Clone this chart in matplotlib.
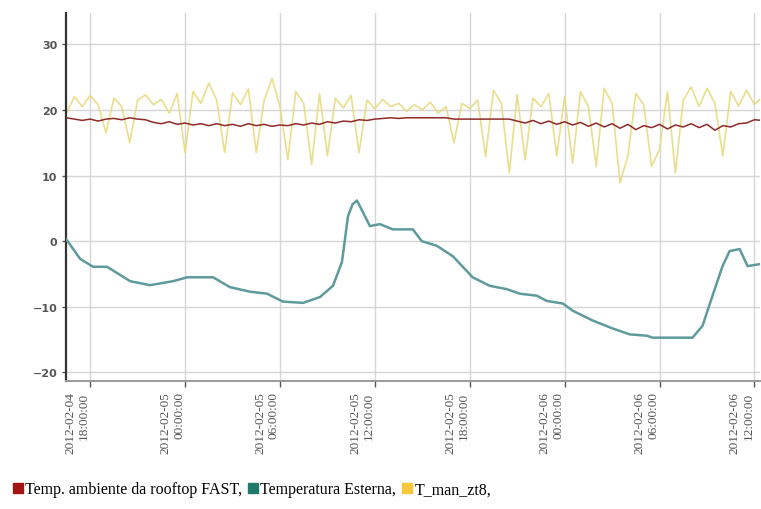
import matplotlib
matplotlib.use('Agg')
import matplotlib.pyplot as plt
import matplotlib.dates as mdates
from matplotlib.lines import Line2D
import pandas as pd

# Temperatura Esterna
est_times = [
    "2012-02-04 16:29", "2012-02-04 17:22", "2012-02-04 18:11", "2012-02-04 19:04",
    "2012-02-04 20:32", "2012-02-04 21:47", "2012-02-04 23:14", "2012-02-05 00:08",
    "2012-02-05 01:46", "2012-02-05 02:50", "2012-02-05 04:07", "2012-02-05 05:11",
    "2012-02-05 06:11", "2012-02-05 07:28", "2012-02-05 08:32", "2012-02-05 09:21",
    "2012-02-05 09:55", "2012-02-05 10:18", "2012-02-05 10:35", "2012-02-05 10:52",
    "2012-02-05 11:15", "2012-02-05 11:41", "2012-02-05 12:19", "2012-02-05 13:08",
    "2012-02-05 14:24", "2012-02-05 14:58", "2012-02-05 15:55", "2012-02-05 16:56",
    "2012-02-05 18:11", "2012-02-05 19:16", "2012-02-05 20:20", "2012-02-05 21:10",
    "2012-02-05 22:14", "2012-02-05 22:52", "2012-02-05 23:53", "2012-02-06 00:31",
    "2012-02-06 01:47", "2012-02-06 03:02", "2012-02-06 04:07", "2012-02-06 05:11",
    "2012-02-06 05:34", "2012-02-06 08:05", "2012-02-06 08:43", "2012-02-06 09:21",
    "2012-02-06 09:59", "2012-02-06 10:26", "2012-02-06 11:04", "2012-02-06 11:34",
    "2012-02-06 12:19",
]
est_values = [
    0.3, -2.7, -3.9, -3.9,
    -6.1, -6.7, -6.1, -5.5,
    -5.5, -7.0, -7.7, -8.0,
    -9.2, -9.4, -8.5, -6.8,
    -3.2, 3.8, 5.6, 6.2,
    4.4, 2.3, 2.6, 1.8,
    1.8, 0.0, -0.7, -2.3,
    -5.5, -6.8, -7.3, -8.0,
    -8.3, -9.1, -9.5, -10.6,
    -12.1, -13.3, -14.2, -14.4,
    -14.7, -14.7, -12.9, -8.3,
    -3.8, -1.5, -1.2, -3.8,
    -3.5,
]

# serie ogni 30 minuti dalle 16:30 del 4 febbraio
series_start = "2012-02-04 16:30"

rooftop_values = [
    18.8, 18.6, 18.4, 18.6, 18.3, 18.6, 18.7, 18.5, 18.8, 18.6,
    18.5, 18.1, 17.9, 18.2, 17.8, 18.0, 17.7, 17.9, 17.6, 17.9,
    17.6, 17.8, 17.5, 17.9, 17.6, 17.8, 17.5, 17.7, 17.6, 17.9,
    17.7, 18.0, 17.8, 18.2, 18.0, 18.3, 18.2, 18.5, 18.4, 18.6,
    18.7, 18.8, 18.7, 18.8, 18.8, 18.8, 18.8, 18.8, 18.8, 18.6,
    18.6, 18.6, 18.6, 18.6, 18.6, 18.6, 18.6, 18.3, 18.0, 18.4,
    17.9, 18.3, 17.8, 18.2, 17.7, 18.1, 17.5, 18.0, 17.4, 17.9,
    17.2, 17.8, 17.0, 17.6, 17.3, 17.8, 17.1, 17.7, 17.4, 17.9,
    17.3, 17.8, 16.9, 17.6, 17.4, 17.9, 18.0, 18.5, 18.4,
]

tman_values = [
    19.5, 22.0, 20.5, 22.2, 20.8, 16.5, 21.8, 20.5, 15.0, 21.5,
    22.3, 20.8, 21.6, 19.5, 22.5, 13.5, 22.8, 21.0, 24.1, 21.5,
    13.5, 22.6, 20.8, 23.2, 13.5, 21.5, 24.8, 20.5, 12.4, 22.8,
    21.0, 11.7, 22.5, 13.0, 21.8, 20.3, 22.2, 13.5, 21.5, 20.2,
    21.6, 20.5, 21.0, 19.8, 20.8, 20.0, 21.2, 19.5, 20.5, 15.0,
    21.0, 20.2, 21.5, 12.9, 23.0, 21.0, 10.4, 22.3, 12.4, 21.8,
    20.5, 22.5, 13.0, 22.0, 11.9, 22.8, 20.5, 11.4, 23.3, 21.0,
    8.9, 13.0, 22.5, 20.8, 11.4, 14.0, 22.8, 10.4, 21.5, 23.5,
    20.5, 23.3, 21.0, 13.0, 22.8, 20.6, 23.0, 20.8, 22.0,
]

labels = ["Temp. ambiente da rooftop FAST,", "Temperatura Esterna,", "T_man_zt8,"]
line_colors = ["#8e2a2a", "#5f9a9c", "#e8da80"]
legend_colors = ["#a31515", "#1f7a6c", "#f6c83c"]

est_t = pd.to_datetime(est_times)
half_hours = pd.date_range(series_start, periods=len(rooftop_values), freq="30min")

fig = plt.figure(figsize=(7.61, 5.10), dpi=100)
ax = fig.add_axes([0.087, 0.251, 0.912, 0.722])

ax.plot(half_hours, tman_values, color=line_colors[2], linewidth=1.2, alpha=0.9, zorder=2)
ax.plot(half_hours, rooftop_values, color=line_colors[0], linewidth=1.1, zorder=3)
ax.plot(est_t, est_values, color=line_colors[1], linewidth=1.8, zorder=3)

ax.set_xlim(pd.Timestamp("2012-02-04 16:29"), pd.Timestamp("2012-02-06 12:22"))
ax.set_ylim(-21.3, 34.8)
ax.set_yticks([-20, -10, 0, 10, 20, 30])

ax.xaxis.set_major_locator(mdates.HourLocator(byhour=[0, 6, 12, 18]))
ax.xaxis.set_major_formatter(mdates.DateFormatter("%Y-%m-%d\n%H:%M:%S"))
for lab in ax.get_xticklabels():
    lab.set_rotation(90)
    lab.set_horizontalalignment('right')
    lab.set_multialignment('right')
    lab.set_fontfamily('Liberation Serif')

ax.grid(True, color='#d6d6d6', linewidth=1.0)
ax.set_axisbelow(True)
for s in ['top', 'right']:
    ax.spines[s].set_visible(False)
ax.spines['left'].set_color('#333333')
ax.spines['left'].set_linewidth(1.6)
ax.spines['bottom'].set_color('#999999')
ax.spines['bottom'].set_linewidth(1.4)

ax.tick_params(axis='y', labelsize=8, colors='#555555', length=3, width=1)
ax.tick_params(axis='x', labelsize=9.5, colors='#555555', length=4, width=1)
for lab in ax.get_yticklabels():
    lab.set_fontweight('bold')

handles = [Line2D([], [], marker='s', linestyle='none', markersize=7,
                  color=c) for c in legend_colors]
fig.legend(handles, labels, loc='lower left', bbox_to_anchor=(-0.004, -0.005),
           ncol=3, frameon=False, handletextpad=0.05, columnspacing=0.3,
           handlelength=0.8, prop={'family': 'Liberation Serif', 'size': 11.5})

plt.savefig('out.png', dpi=100)
